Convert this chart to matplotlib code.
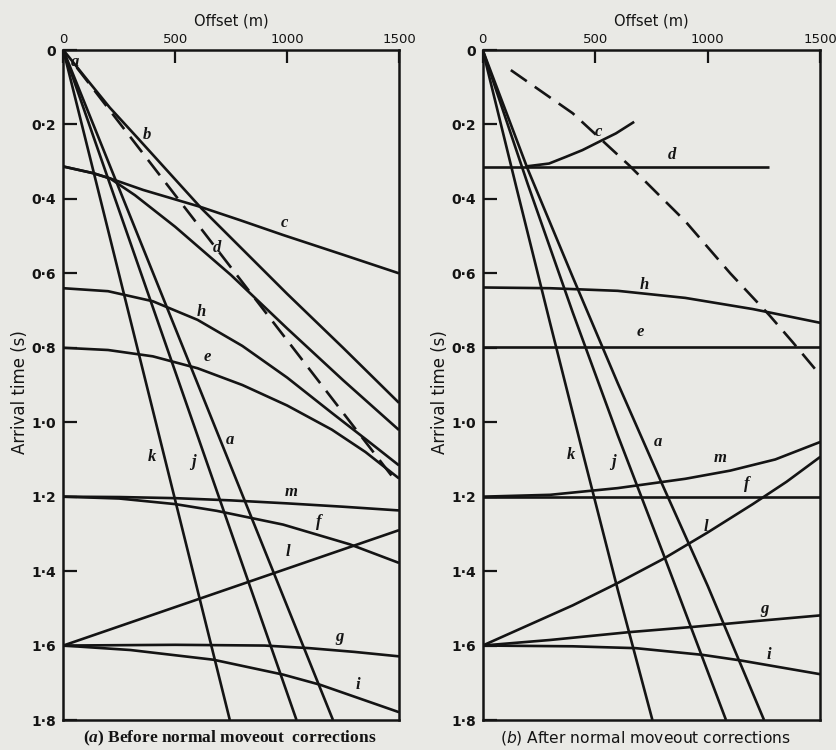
import matplotlib
matplotlib.use("Agg")
import matplotlib.pyplot as plt

# ---------------- data: panel (a) before NMO corrections ----------------
a_b_x = [0, 100, 208, 330, 618, 1000, 1250, 1500]
a_b_t = [0.0, 0.075, 0.155, 0.235, 0.426, 0.655, 0.80, 0.948]
a_dash_x = [60, 1475]
a_dash_t = [0.047, 1.15]
a_c_x = [0, 134, 209, 357, 610, 789, 982, 1250, 1500]
a_c_t = [0.313, 0.331, 0.345, 0.376, 0.421, 0.457, 0.497, 0.55, 0.60]
a_d_x = [0, 134, 209, 320, 500, 750, 1000, 1250, 1500]
a_d_t = [0.313, 0.331, 0.345, 0.39, 0.475, 0.605, 0.748, 0.887, 1.021]
a_h_x = [0, 200, 400, 600, 800, 1000, 1200, 1350, 1500]
a_h_t = [0.640, 0.648, 0.675, 0.725, 0.795, 0.88, 0.975, 1.045, 1.116]
a_e_x = [0, 200, 400, 600, 800, 1000, 1200, 1350, 1500]
a_e_t = [0.800, 0.806, 0.823, 0.855, 0.90, 0.955, 1.02, 1.08, 1.151]
a_k_x = [0, 744]
a_k_t = [0.0, 1.8]
a_j_x = [0, 1042]
a_j_t = [0.0, 1.8]
a_a_x = [0, 1205]
a_a_t = [0.0, 1.8]
a_m_x = [0, 250, 500, 750, 1000, 1250, 1500]
a_m_t = [1.2, 1.201, 1.204, 1.21, 1.218, 1.227, 1.237]
a_f_x = [0, 250, 500, 685, 982, 1280, 1500]
a_f_t = [1.2, 1.205, 1.22, 1.238, 1.275, 1.328, 1.378]
a_l_x = [0, 1500]
a_l_t = [1.6, 1.29]
a_g_x = [0, 500, 900, 1100, 1300, 1500]
a_g_t = [1.6, 1.598, 1.6, 1.607, 1.617, 1.629]
a_i_x = [0, 300, 670, 982, 1146, 1500]
a_i_t = [1.6, 1.612, 1.638, 1.678, 1.705, 1.779]

# ---------------- data: panel (b) after NMO corrections ----------------
b_dash_x = [125, 400, 651, 900, 1100, 1273, 1376, 1481]
b_dash_t = [0.054, 0.17, 0.31, 0.46, 0.60, 0.712, 0.784, 0.86]
b_c_x = [190, 295, 370, 443, 532, 592, 673]
b_c_t = [0.313, 0.305, 0.287, 0.269, 0.242, 0.224, 0.193]
b_d_x = [0, 1270]
b_d_t = [0.313, 0.313]
b_h_x = [0, 300, 600, 900, 1200, 1500]
b_h_t = [0.638, 0.64, 0.647, 0.666, 0.696, 0.733]
b_e_x = [0, 1500]
b_e_t = [0.797, 0.797]
b_k_x = [0, 150, 300, 450, 600, 754]
b_k_t = [0.0, 0.37, 0.735, 1.095, 1.45, 1.8]
b_j_x = [0, 200, 400, 600, 800, 1081]
b_j_t = [0.0, 0.36, 0.705, 1.035, 1.35, 1.8]
b_a_x = [0, 200, 400, 600, 800, 1000, 1250]
b_a_t = [0.0, 0.32, 0.61, 0.895, 1.17, 1.44, 1.8]
b_m_x = [0, 300, 600, 900, 1100, 1300, 1500]
b_m_t = [1.2, 1.195, 1.177, 1.152, 1.13, 1.10, 1.053]
b_f_x = [0, 1500]
b_f_t = [1.2, 1.2]
b_l_x = [0, 200, 400, 600, 800, 1000, 1200, 1350, 1500]
b_l_t = [1.6, 1.546, 1.492, 1.432, 1.368, 1.296, 1.22, 1.16, 1.093]
b_g_x = [0, 300, 650, 932, 1200, 1500]
b_g_t = [1.6, 1.585, 1.564, 1.55, 1.535, 1.519]
b_i_x = [0, 400, 680, 977, 1146, 1500]
b_i_t = [1.6, 1.602, 1.607, 1.625, 1.64, 1.677]

x_ticks = [0, 500, 1000, 1500]
x_tick_labels = ["0", "500", "1000", "1500"]
y_ticks = [0, 0.2, 0.4, 0.6, 0.8, 1.0, 1.2, 1.4, 1.6, 1.8]
y_tick_labels = ["0", "0\u00b72", "0\u00b74", "0\u00b76", "0\u00b78",
                 "1\u00b70", "1\u00b72", "1\u00b74", "1\u00b76", "1\u00b78"]
x_label = "Offset (m)"
y_label = "Arrival time (s)"
caption_a = r"($\mathit{a}$) Before normal moveout  corrections"
caption_b = r"($\mathsf{b}$) After normal moveout corrections"

# ---------------- drawing ----------------
plt.rcParams["lines.scale_dashes"] = False
plt.rcParams["mathtext.fontset"] = "custom"
plt.rcParams["mathtext.it"] = "Liberation Serif:italic:bold"
plt.rcParams["mathtext.sf"] = "DejaVu Sans:italic"

BG = "#e9e9e5"
INK = "#141414"
LW = 1.9

fig = plt.figure(figsize=(8.36, 7.5), dpi=100, facecolor=BG)
W, H = 836.0, 750.0

def make_axes(left_px, right_px):
    top_px, bot_px = 50.0, 720.0
    ax = fig.add_axes([left_px / W, 1 - bot_px / H, (right_px - left_px) / W,
                       (bot_px - top_px) / H])
    ax.set_facecolor(BG)
    ax.set_xlim(0, 1500)
    ax.set_ylim(1.8, 0)
    ax.xaxis.tick_top()
    ax.xaxis.set_label_position("top")
    ax.set_xticks(x_ticks)
    ax.set_xticklabels(x_tick_labels, fontsize=9.5, family="DejaVu Sans")
    ax.set_yticks(y_ticks)
    ax.set_yticklabels(y_tick_labels, fontsize=10, family="DejaVu Sans",
                       fontweight="bold")
    ax.tick_params(axis="x", direction="in", length=9, width=1.6, pad=3,
                   colors=INK)
    ax.tick_params(axis="y", direction="in", length=10, width=1.6, pad=5,
                   colors=INK)
    for s in ax.spines.values():
        s.set_linewidth(1.8)
        s.set_color(INK)
    ax.set_xlabel(x_label, fontsize=10.5, family="DejaVu Sans", labelpad=5,
                  color=INK)
    return ax

axA = make_axes(63.3, 399.0)
axB = make_axes(482.7, 820.3)

def curve(ax, xs, ts, dashed=False):
    ln, = ax.plot(xs, ts, color=INK, lw=LW, solid_capstyle="butt",
                  solid_joinstyle="round", clip_on=True)
    if dashed:
        ln.set_dashes((14, 7))
    return ln

for xs, ts in [(a_b_x, a_b_t), (a_c_x, a_c_t), (a_d_x, a_d_t), (a_h_x, a_h_t),
               (a_e_x, a_e_t), (a_k_x, a_k_t), (a_j_x, a_j_t), (a_a_x, a_a_t),
               (a_m_x, a_m_t), (a_f_x, a_f_t), (a_l_x, a_l_t), (a_g_x, a_g_t),
               (a_i_x, a_i_t)]:
    curve(axA, xs, ts)
curve(axA, a_dash_x, a_dash_t, dashed=True)

for xs, ts in [(b_c_x, b_c_t), (b_d_x, b_d_t), (b_h_x, b_h_t), (b_e_x, b_e_t),
               (b_k_x, b_k_t), (b_j_x, b_j_t), (b_a_x, b_a_t), (b_m_x, b_m_t),
               (b_f_x, b_f_t), (b_l_x, b_l_t), (b_g_x, b_g_t), (b_i_x, b_i_t)]:
    curve(axB, xs, ts)
curve(axB, b_dash_x, b_dash_t, dashed=True)

lab_kw = dict(fontsize=12, family="Liberation Serif", style="italic",
              fontweight="bold", color=INK, ha="center", va="center")
for name, px, pt in [("a", 52, 0.032), ("b", 374, 0.229), ("c", 989, 0.465),
                     ("d", 686, 0.532), ("h", 616, 0.704), ("e", 642, 0.825),
                     ("k", 394, 1.093), ("j", 580, 1.107), ("a", 744, 1.048),
                     ("m", 1019, 1.187), ("f", 1143, 1.268), ("l", 1004, 1.349),
                     ("g", 1235, 1.577), ("i", 1317, 1.707)]:
    axA.text(px, pt, name, **lab_kw)
for name, px, pt in [("c", 514, 0.22), ("d", 843, 0.282), ("h", 717, 0.632),
                     ("e", 702, 0.757), ("k", 391, 1.089), ("j", 583, 1.107),
                     ("a", 777, 1.053), ("m", 1057, 1.095), ("f", 1174, 1.165),
                     ("l", 990, 1.281), ("g", 1250, 1.501), ("i", 1272, 1.626)]:
    axB.text(px, pt, name, **lab_kw)

fig.text(20 / W, 1 - 392 / H, y_label, rotation=90, ha="center", va="center",
         fontsize=12, family="DejaVu Sans", color=INK)
fig.text(440 / W, 1 - 392 / H, y_label, rotation=90, ha="center", va="center",
         fontsize=12, family="DejaVu Sans", color=INK)

fig.text(230 / W, 1 - 738 / H, caption_a, ha="center", va="center",
         fontsize=12.5, family="Liberation Serif", fontweight="bold", color=INK)
fig.text(645 / W, 1 - 738 / H, caption_b, ha="center", va="center",
         fontsize=11.2, family="DejaVu Sans", color=INK)

fig.savefig("out.png", dpi=100, facecolor=BG)
